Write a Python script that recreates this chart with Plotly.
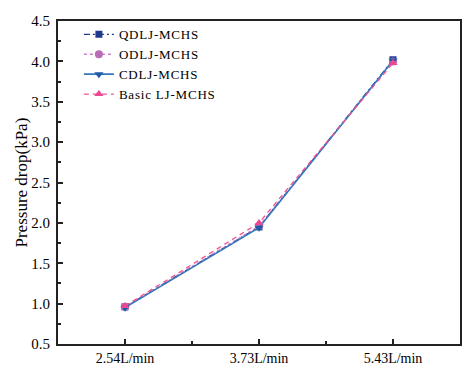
import plotly.graph_objects as go

categories = ["2.54L/min", "3.73L/min", "5.43L/min"]
series_names = ["QDLJ-MCHS", "ODLJ-MCHS", "CDLJ-MCHS", "Basic LJ-MCHS"]
qdlj = [0.96, 1.95, 4.02]
odlj = [0.96, 1.96, 4.00]
cdlj = [0.95, 1.94, 4.01]
basic = [0.97, 2.00, 3.98]
y_title = "Pressure drop(kPa)"

xs = list(range(len(categories)))
font = "Liberation Serif, Times New Roman, serif"


def lname(s):
    return '<span style="letter-spacing:0.8px">' + s + '</span>'


fig = go.Figure()
fig.add_trace(go.Scatter(x=xs, y=qdlj, name=lname(series_names[0]), mode="lines+markers",
                         line=dict(color="#1d3a8f", width=1.3, dash="6px,3px,2px,3px"),
                         marker=dict(symbol="square", size=7, color="#1d3a8f")))
fig.add_trace(go.Scatter(x=xs, y=odlj, name=lname(series_names[1]), mode="lines+markers",
                         line=dict(color="#cc7fcc", width=1.3, dash="dot"),
                         marker=dict(symbol="circle", size=8, color="#b96db9")))
fig.add_trace(go.Scatter(x=xs, y=cdlj, name=lname(series_names[2]), mode="lines+markers",
                         line=dict(color="#3576bd", width=1.6, dash="solid"),
                         marker=dict(symbol="triangle-down", size=8, color="#1f5aa6")))
fig.add_trace(go.Scatter(x=xs, y=basic, name=lname(series_names[3]), mode="lines+markers",
                         line=dict(color="#f0548f", width=1.3, dash="5px,4px"),
                         marker=dict(symbol="triangle-up", size=8, color="#ee4690")))

axis_common = dict(showline=True, linecolor="#222222", linewidth=2, mirror=True,
                   ticks="inside", tickcolor="#222222", tickwidth=1.5, ticklen=5,
                   showgrid=False, zeroline=False, automargin=False)

fig.update_xaxes(range=[-0.5, 2.5], tickvals=xs, ticktext=categories,
                 tickfont=dict(family=font, size=14, color="black"),
                 minor=dict(ticks="inside", dtick=0.5, tick0=0, ticklen=3,
                            tickcolor="#222222", tickwidth=1.5),
                 **axis_common)
fig.update_yaxes(range=[0.5, 4.5], dtick=0.5, tickformat=".1f",
                 tickfont=dict(family=font, size=15, color="black"),
                 ticklabelstandoff=3,
                 minor=dict(ticks="inside", dtick=0.25, tick0=0.5, ticklen=3,
                            tickcolor="#222222", tickwidth=1.5),
                 **axis_common)

fig.add_annotation(text=y_title, textangle=-90, xref="paper", yref="paper",
                   x=-0.092, y=0.5, xanchor="center", yanchor="middle",
                   showarrow=False, font=dict(family=font, size=17, color="black"))

fig.update_layout(
    width=475, height=370,
    margin=dict(l=58, r=15, t=21, b=26, autoexpand=False),
    paper_bgcolor="white", plot_bgcolor="white",
    font=dict(family=font, size=14, color="black"),
    legend=dict(x=0.052, y=1.005, xanchor="left", yanchor="top",
                bgcolor="rgba(0,0,0,0)", font=dict(family=font, size=13, color="black"),
                itemwidth=30, tracegroupgap=0),
    showlegend=True,
)

fig.write_html("out.html", config={"displayModeBar": False},
               post_script="document.body.style.margin='0';")
